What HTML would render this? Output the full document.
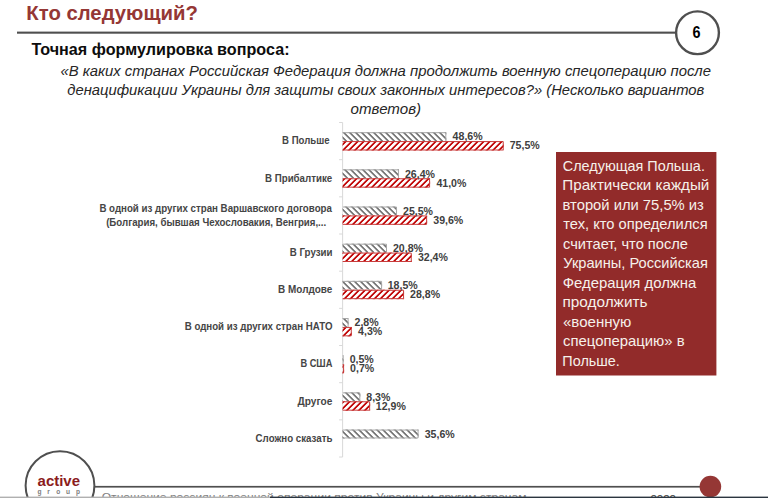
<!DOCTYPE html><html><head><meta charset="utf-8"><style>html,body{margin:0;padding:0;background:#fff;overflow:hidden}svg{display:block}text{font-family:'Liberation Sans', sans-serif}</style></head><body>
<svg width="768" height="498" viewBox="0 0 768 498">
<defs>
<pattern id="pg" patternUnits="userSpaceOnUse" width="4.243" height="4.243" patternTransform="rotate(-45)"><rect width="4.243" height="4.243" fill="#fff"/><rect x="0" y="0" width="1.7" height="4.243" fill="#737373"/></pattern>
<pattern id="pr" patternUnits="userSpaceOnUse" width="4.243" height="4.243" patternTransform="rotate(45)"><rect width="4.243" height="4.243" fill="#fff"/><rect x="0" y="0" width="1.7" height="4.243" fill="#c00000"/></pattern>
</defs>
<rect width="768" height="498" fill="#fff"/>
<rect x="17" y="31.6" width="660" height="2.1" fill="#4f4f4f"/>
<circle cx="697.5" cy="32.75" r="21.4" fill="#fff" stroke="#4f4f4f" stroke-width="2.4"/>
<rect x="342.10" y="122.50" width="1" height="334.53" fill="#d9d9d9"/>
<rect x="339.10" y="122.00" width="3.5" height="1" fill="#d9d9d9"/>
<rect x="339.10" y="159.17" width="3.5" height="1" fill="#d9d9d9"/>
<rect x="339.10" y="196.34" width="3.5" height="1" fill="#d9d9d9"/>
<rect x="339.10" y="233.51" width="3.5" height="1" fill="#d9d9d9"/>
<rect x="339.10" y="270.68" width="3.5" height="1" fill="#d9d9d9"/>
<rect x="339.10" y="307.85" width="3.5" height="1" fill="#d9d9d9"/>
<rect x="339.10" y="345.02" width="3.5" height="1" fill="#d9d9d9"/>
<rect x="339.10" y="382.19" width="3.5" height="1" fill="#d9d9d9"/>
<rect x="339.10" y="419.36" width="3.5" height="1" fill="#d9d9d9"/>
<rect x="339.10" y="456.53" width="3.5" height="1" fill="#d9d9d9"/>
<rect x="342.60" y="132.19" width="103.71" height="8.90" fill="url(#pg)"/>
<path d="M342.60 132.69 H445.81 V141.09" fill="none" stroke="#a6a6a6" stroke-width="1"/>
<rect x="342.60" y="141.09" width="161.12" height="9.40" fill="url(#pr)"/>
<path d="M342.60 141.59 H503.22 V149.99 H342.60" fill="none" stroke="#c83c3c" stroke-width="1"/>
<rect x="342.60" y="169.35" width="56.34" height="8.90" fill="url(#pg)"/>
<path d="M342.60 169.85 H398.44 V178.25" fill="none" stroke="#a6a6a6" stroke-width="1"/>
<rect x="342.60" y="178.25" width="87.49" height="9.40" fill="url(#pr)"/>
<path d="M342.60 178.75 H429.59 V187.16 H342.60" fill="none" stroke="#c83c3c" stroke-width="1"/>
<rect x="342.60" y="206.53" width="54.42" height="8.90" fill="url(#pg)"/>
<path d="M342.60 207.03 H396.52 V215.43" fill="none" stroke="#a6a6a6" stroke-width="1"/>
<rect x="342.60" y="215.43" width="84.51" height="9.40" fill="url(#pr)"/>
<path d="M342.60 215.93 H426.61 V224.33 H342.60" fill="none" stroke="#c83c3c" stroke-width="1"/>
<rect x="342.60" y="243.69" width="44.39" height="8.90" fill="url(#pg)"/>
<path d="M342.60 244.19 H386.49 V252.59" fill="none" stroke="#a6a6a6" stroke-width="1"/>
<rect x="342.60" y="252.59" width="69.14" height="9.40" fill="url(#pr)"/>
<path d="M342.60 253.09 H411.24 V261.50 H342.60" fill="none" stroke="#c83c3c" stroke-width="1"/>
<rect x="342.60" y="280.87" width="39.48" height="8.90" fill="url(#pg)"/>
<path d="M342.60 281.37 H381.58 V289.76" fill="none" stroke="#a6a6a6" stroke-width="1"/>
<rect x="342.60" y="289.76" width="61.46" height="9.40" fill="url(#pr)"/>
<path d="M342.60 290.26 H403.56 V298.66 H342.60" fill="none" stroke="#c83c3c" stroke-width="1"/>
<rect x="342.60" y="318.04" width="5.98" height="8.90" fill="url(#pg)"/>
<path d="M342.60 318.54 H348.08 V326.94" fill="none" stroke="#a6a6a6" stroke-width="1"/>
<rect x="342.60" y="326.94" width="9.18" height="9.40" fill="url(#pr)"/>
<path d="M342.60 327.44 H351.28 V335.83 H342.60" fill="none" stroke="#c83c3c" stroke-width="1"/>
<rect x="342.60" y="355.21" width="1.07" height="8.90" fill="url(#pg)"/>
<path d="M342.60 355.71 H343.17 V364.11" fill="none" stroke="#a6a6a6" stroke-width="1"/>
<rect x="342.60" y="364.11" width="1.49" height="9.40" fill="url(#pr)"/>
<path d="M342.60 364.61 H343.59 V373.00 H342.60" fill="none" stroke="#c83c3c" stroke-width="1"/>
<rect x="342.60" y="392.38" width="17.71" height="8.90" fill="url(#pg)"/>
<path d="M342.60 392.88 H359.81 V401.28" fill="none" stroke="#a6a6a6" stroke-width="1"/>
<rect x="342.60" y="401.28" width="27.53" height="9.40" fill="url(#pr)"/>
<path d="M342.60 401.78 H369.63 V410.18 H342.60" fill="none" stroke="#c83c3c" stroke-width="1"/>
<rect x="342.60" y="429.55" width="75.97" height="8.90" fill="url(#pg)"/>
<path d="M342.60 430.05 H418.07 V437.94 H342.60" fill="none" stroke="#a6a6a6" stroke-width="1"/>
<rect x="556" y="152" width="160.4" height="223.5" fill="#922b2a"/>
<rect x="94" y="485.9" width="610" height="1.7" fill="#4f4f4f"/>
<circle cx="710.4" cy="486.6" r="10.8" fill="#953735"/>
<circle cx="60" cy="485.6" r="34.4" fill="#fff" stroke="#4f4f4f" stroke-width="2"/>
<text x="26.33" y="19.90" font-size="20.6" fill="#953735" font-weight="bold" textLength="171.55" lengthAdjust="spacingAndGlyphs">Кто следующий?</text>
<text x="692.55" y="37.80" font-size="16.6" fill="#000" font-weight="bold" textLength="8.01" lengthAdjust="spacingAndGlyphs">6</text>
<text x="31.40" y="54.60" font-size="16.2" fill="#0d0d0d" font-weight="bold" textLength="258.14" lengthAdjust="spacingAndGlyphs">Точная формулировка вопроса:</text>
<text x="60.44" y="75.70" font-size="13.8" fill="#262626" font-style="italic" textLength="650.53" lengthAdjust="spacingAndGlyphs">«В каких странах Российская Федерация должна продолжить военную спецоперацию после</text>
<text x="67.24" y="94.50" font-size="13.8" fill="#262626" font-style="italic" textLength="637.09" lengthAdjust="spacingAndGlyphs">денацификации Украины для защиты своих законных интересов?» (Несколько вариантов</text>
<text x="350.63" y="114.40" font-size="13.8" fill="#262626" font-style="italic" textLength="70.45" lengthAdjust="spacingAndGlyphs">ответов)</text>
<text x="282.10" y="144.39" font-size="10.0" fill="#454545" font-weight="bold" textLength="47.44" lengthAdjust="spacingAndGlyphs">В Польше</text>
<text x="452.61" y="140.44" font-size="10.6" fill="#404040" font-weight="bold">48,6%</text>
<text x="509.69" y="149.34" font-size="10.6" fill="#404040" font-weight="bold">75,5%</text>
<text x="264.99" y="181.56" font-size="10.0" fill="#454545" font-weight="bold" textLength="67.25" lengthAdjust="spacingAndGlyphs">В Прибалтике</text>
<text x="404.91" y="177.61" font-size="10.6" fill="#404040" font-weight="bold">26,4%</text>
<text x="436.39" y="186.50" font-size="10.6" fill="#404040" font-weight="bold">41,0%</text>
<text x="99.39" y="211.93" font-size="10.0" fill="#454545" font-weight="bold" textLength="232.55" lengthAdjust="spacingAndGlyphs">В одной из других стран Варшавского договора</text>
<text x="106.15" y="225.53" font-size="10.0" fill="#454545" font-weight="bold" textLength="220.03" lengthAdjust="spacingAndGlyphs">(Болгария, бывшая Чехословакия, Венгрия,...</text>
<text x="402.99" y="214.78" font-size="10.6" fill="#404040" font-weight="bold">25,5%</text>
<text x="433.24" y="223.68" font-size="10.6" fill="#404040" font-weight="bold">39,6%</text>
<text x="289.79" y="255.90" font-size="10.0" fill="#454545" font-weight="bold" textLength="42.67" lengthAdjust="spacingAndGlyphs">В Грузии</text>
<text x="392.96" y="251.95" font-size="10.6" fill="#404040" font-weight="bold">20,8%</text>
<text x="417.88" y="260.85" font-size="10.6" fill="#404040" font-weight="bold">32,4%</text>
<text x="278.08" y="293.06" font-size="10.0" fill="#454545" font-weight="bold" textLength="54.27" lengthAdjust="spacingAndGlyphs">В Молдове</text>
<text x="387.72" y="289.12" font-size="10.6" fill="#404040" font-weight="bold">18,5%</text>
<text x="410.03" y="298.01" font-size="10.6" fill="#404040" font-weight="bold">28,8%</text>
<text x="184.69" y="330.24" font-size="10.0" fill="#454545" font-weight="bold" textLength="147.78" lengthAdjust="spacingAndGlyphs">В одной из других стран НАТО</text>
<text x="354.54" y="326.29" font-size="10.6" fill="#404040" font-weight="bold">2,8%</text>
<text x="358.08" y="335.19" font-size="10.6" fill="#404040" font-weight="bold">4,3%</text>
<text x="300.42" y="367.41" font-size="10.0" fill="#454545" font-weight="bold" textLength="31.96" lengthAdjust="spacingAndGlyphs">В США</text>
<text x="349.64" y="363.46" font-size="10.6" fill="#404040" font-weight="bold">0,5%</text>
<text x="350.06" y="372.36" font-size="10.6" fill="#404040" font-weight="bold">0,7%</text>
<text x="297.60" y="404.58" font-size="10.0" fill="#454545" font-weight="bold" textLength="34.75" lengthAdjust="spacingAndGlyphs">Другое</text>
<text x="366.28" y="400.63" font-size="10.6" fill="#404040" font-weight="bold">8,3%</text>
<text x="375.77" y="409.53" font-size="10.6" fill="#404040" font-weight="bold">12,9%</text>
<text x="255.60" y="441.75" font-size="10.0" fill="#454545" font-weight="bold" textLength="76.86" lengthAdjust="spacingAndGlyphs">Сложно сказать</text>
<text x="424.70" y="437.80" font-size="10.6" fill="#404040" font-weight="bold">35,6%</text>
<text x="562.82" y="170.80" font-size="14.1" fill="#f6f1ea" textLength="142.08" lengthAdjust="spacingAndGlyphs">Следующая Польша.</text>
<text x="562.32" y="190.28" font-size="14.1" fill="#f6f1ea" textLength="146.97" lengthAdjust="spacingAndGlyphs">Практически каждый</text>
<text x="562.58" y="209.76" font-size="14.1" fill="#f6f1ea" textLength="141.26" lengthAdjust="spacingAndGlyphs">второй или 75,5% из</text>
<text x="563.27" y="229.24" font-size="14.1" fill="#f6f1ea" textLength="144.37" lengthAdjust="spacingAndGlyphs">тех, кто определился</text>
<text x="563.04" y="248.72" font-size="14.1" fill="#f6f1ea" textLength="124.85" lengthAdjust="spacingAndGlyphs">считает, что после</text>
<text x="563.27" y="268.20" font-size="14.1" fill="#f6f1ea" textLength="144.56" lengthAdjust="spacingAndGlyphs">Украины, Российская</text>
<text x="562.80" y="287.68" font-size="14.1" fill="#f6f1ea" textLength="133.50" lengthAdjust="spacingAndGlyphs">Федерация должна</text>
<text x="562.54" y="307.16" font-size="14.1" fill="#f6f1ea" textLength="84.92" lengthAdjust="spacingAndGlyphs">продолжить</text>
<text x="563.03" y="326.64" font-size="14.1" fill="#f6f1ea" textLength="68.24" lengthAdjust="spacingAndGlyphs">«военную</text>
<text x="563.04" y="346.12" font-size="14.1" fill="#f6f1ea" textLength="121.53" lengthAdjust="spacingAndGlyphs">спецоперацию» в</text>
<text x="562.38" y="365.60" font-size="14.1" fill="#f6f1ea" textLength="57.42" lengthAdjust="spacingAndGlyphs">Польше.</text>
<text x="37.57" y="486.00" font-size="15.5" fill="#8b1c1c" font-weight="bold" textLength="42.41" lengthAdjust="spacingAndGlyphs">active</text>
<text x="37.59" y="494.40" font-size="6.6" fill="#808080" font-weight="bold">g</text>
<text x="47.19" y="494.40" font-size="6.6" fill="#808080" font-weight="bold">r</text>
<text x="56.19" y="494.40" font-size="6.6" fill="#808080" font-weight="bold">o</text>
<text x="65.99" y="494.40" font-size="6.6" fill="#808080" font-weight="bold">u</text>
<text x="75.89" y="494.40" font-size="6.6" fill="#808080" font-weight="bold">p</text>
<text x="101.73" y="501.30" font-size="10.5" fill="#7f7f7f" textLength="424.82" lengthAdjust="spacingAndGlyphs">Отношение россиян к военной операции против Украины и другим странам</text>
<text x="650.46" y="502.90" font-size="10.5" fill="#404040" textLength="25.50" lengthAdjust="spacingAndGlyphs">2022</text>
<rect x="0" y="496.6" width="270" height="1.4" fill="#b0b0b0"/>
<rect x="270" y="496.6" width="498" height="1.4" fill="#2b3540"/>
</svg></body></html>
